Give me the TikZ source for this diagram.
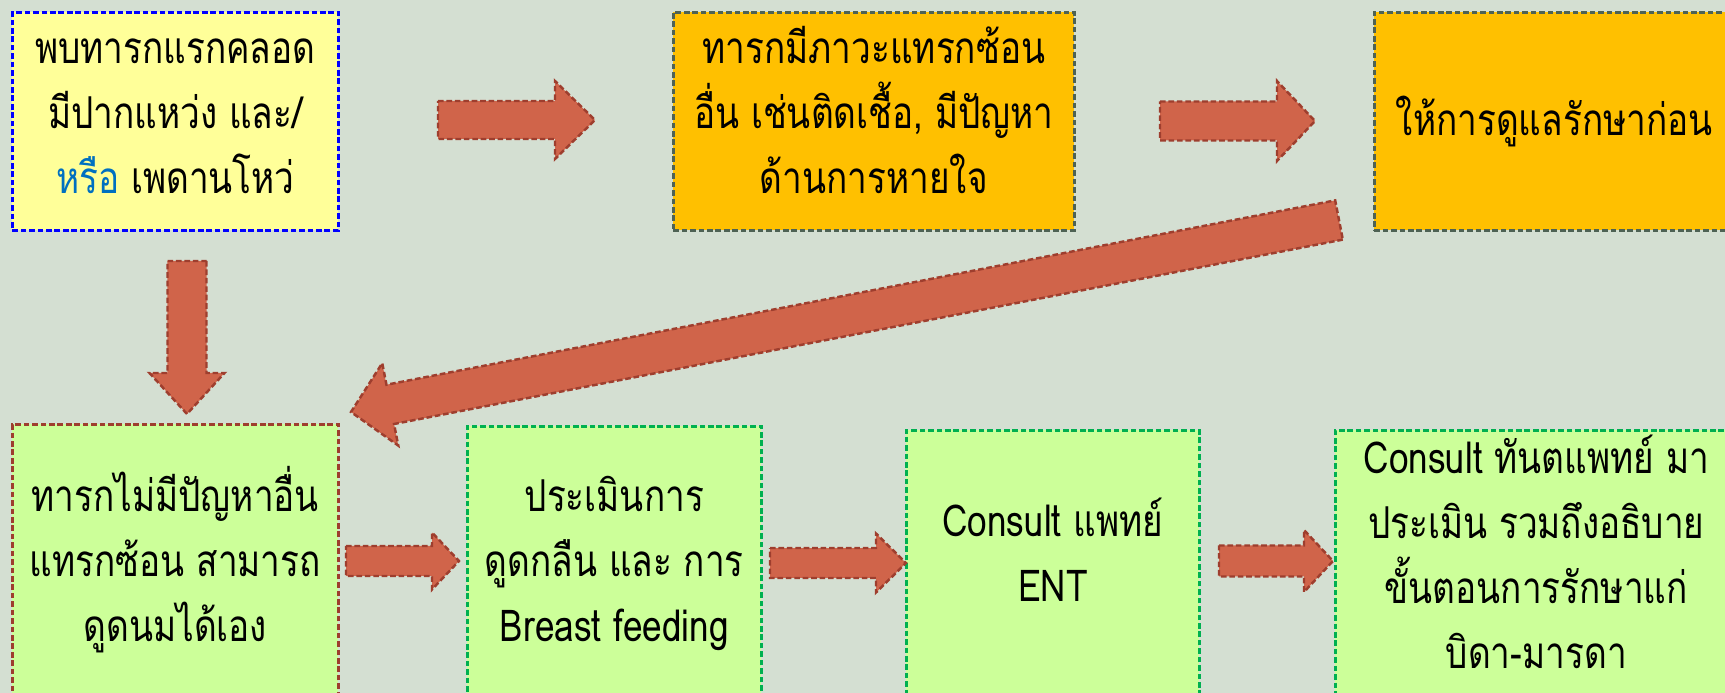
\documentclass[tikz,border=0pt]{standalone}
\usepackage{fontspec}
\setmainfont[Script=Thai, FakeStretch=0.8]{Loma}
\usetikzlibrary{calc}

\definecolor{bgcol}{RGB}{212,223,210}
\definecolor{paleyellow}{RGB}{255,255,153}
\definecolor{amber}{RGB}{255,192,0}
\definecolor{palegreen}{RGB}{204,255,153}
\definecolor{arrowfill}{RGB}{208,100,74}
\definecolor{arrowline}{RGB}{158,62,46}
\definecolor{greenline}{RGB}{0,176,80}
\definecolor{greyline}{RGB}{78,98,84}
\definecolor{orblue}{RGB}{0,112,192}

% block arrow from #1 to #2, half body #3, half head #4, head length #5
\newcommand{\blockarrow}[5]{%
  \coordinate (#2-base) at ($(#2)!#5!(#1)$);
  \draw[flowarrow] ($(#1)!#3!90:(#2)$) -- ($(#2-base)!#3!-90:(#1)$)
    -- ($(#2-base)!#4!-90:(#1)$) -- (#2) -- ($(#2-base)!#4!90:(#1)$)
    -- ($(#2-base)!#3!90:(#1)$) -- ($(#1)!#3!-90:(#2)$) -- cycle;
}

\begin{document}
\begin{tikzpicture}[x=1cm, y=-1cm,
  box/.style={rectangle, draw, line width=0.75pt, dash pattern=on 1.6pt off 0.8pt,
    anchor=north west, inner sep=0pt, align=center,
    font=\fontsize{12.5}{18.5}\selectfont},
  flowarrow/.style={fill=arrowfill, draw=arrowline, line width=0.7pt,
    dash pattern=on 1.6pt off 0.8pt, line join=miter}]
  % Background
  \useasboundingbox (0,0) rectangle (17.25,6.93);
  \clip (0,0) rectangle (17.25,6.93);
  \fill[bgcol] (0,0) rectangle (17.25,6.93);

  % Top row
  \node[box, fill=paleyellow, draw=blue, minimum width=3.26cm, minimum height=2.18cm,
    text depth=0.11cm]
    (found) at (0.11,0.11) {พบทารกแรกคลอด\\มีปากแหว่ง และ/\\{\color{orblue}หรือ} เพดานโหว่};
  \node[box, fill=amber, draw=greyline, minimum width=4.01cm, minimum height=2.18cm,
    text depth=0.23cm]
    (complic) at (6.72,0.11) {ทารกมีภาวะแทรกซ้อน\\อื่น เช่นติดเชื้อ, มีปัญหา\\ด้านการหายใจ};
  \node[box, fill=amber, draw=greyline, minimum width=3.60cm, minimum height=2.18cm]
    (treat) at (13.73,0.11) {ให้การดูแลรักษาก่อน};

  % Bottom row
  \node[box, fill=palegreen, draw=arrowline, minimum width=3.26cm, minimum height=2.76cm,
    text depth=0.17cm]
    (noprob) at (0.11,4.23) {ทารกไม่มีปัญหาอื่น\\แทรกซ้อน สามารถ\\ดูดนมได้เอง};
  \node[box, fill=palegreen, draw=greenline, minimum width=2.94cm, minimum height=2.74cm]
    (assess) at (4.66,4.25) {ประเมินการ\\ดูดกลืน และ การ\\Breast feeding};
  \node[box, fill=palegreen, draw=greenline, minimum width=2.93cm, minimum height=2.68cm,
    text depth=0.29cm]
    (ent) at (9.05,4.29) {Consult แพทย์\\ENT};
  \node[box, fill=palegreen, draw=greenline, minimum width=4.02cm, minimum height=2.68cm,
    text depth=0.25cm]
    (dent) at (13.34,4.29) {Consult ทันตแพทย์ มา\\ประเมิน รวมถึงอธิบาย\\ขั้นตอนการรักษาแก่\\บิดา-มารดา};

  % Arrow ends
  \coordinate (a1s) at (4.38,1.20);  \coordinate (a1e) at (5.95,1.20);
  \coordinate (a2s) at (11.60,1.21); \coordinate (a2e) at (13.15,1.21);
  \coordinate (a3s) at (13.39,2.20); \coordinate (a3e) at (3.51,4.12);
  \coordinate (a4s) at (1.87,2.61);  \coordinate (a4e) at (1.87,4.14);
  \coordinate (a5s) at (3.46,5.61);  \coordinate (a5e) at (4.59,5.61);
  \coordinate (a6s) at (7.70,5.63);  \coordinate (a6e) at (9.06,5.63);
  \coordinate (a7s) at (12.19,5.61); \coordinate (a7e) at (13.33,5.61);

  % Arrows
  \blockarrow{a1s}{a1e}{0.19cm}{0.39cm}{0.40cm}
  \blockarrow{a2s}{a2e}{0.195cm}{0.40cm}{0.38cm}
  \blockarrow{a3s}{a3e}{0.20cm}{0.42cm}{0.40cm}
  \blockarrow{a4s}{a4e}{0.195cm}{0.375cm}{0.41cm}
  \blockarrow{a5s}{a5e}{0.15cm}{0.285cm}{0.27cm}
  \blockarrow{a6s}{a6e}{0.15cm}{0.295cm}{0.30cm}
  \blockarrow{a7s}{a7e}{0.155cm}{0.31cm}{0.29cm}
\end{tikzpicture}
\end{document}
